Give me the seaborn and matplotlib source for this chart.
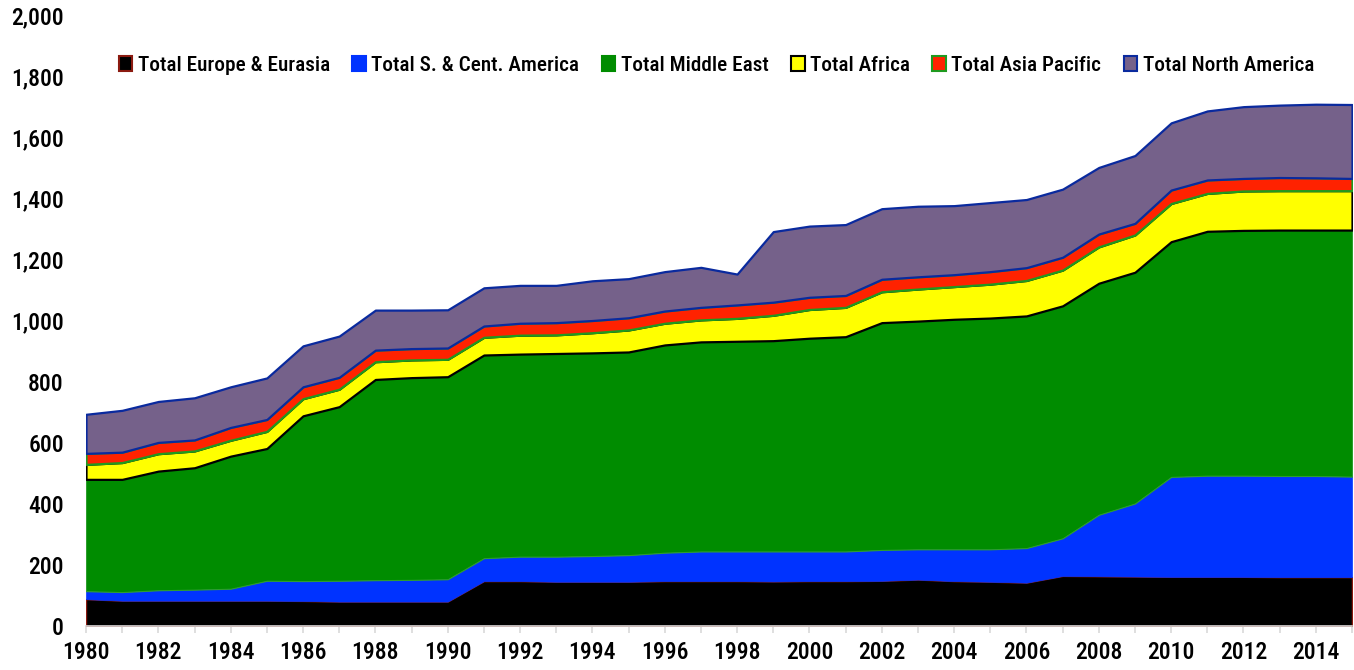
import numpy as np
import pandas as pd
import matplotlib
matplotlib.use("Agg")
import matplotlib.pyplot as plt
from matplotlib.patches import Patch
from matplotlib.ticker import FuncFormatter, MultipleLocator
import seaborn as sns

years = list(range(1980, 2016))

europe = [88, 83, 83, 83, 83, 83, 82, 80, 80, 80, 80, 147, 147, 145, 145, 145, 147, 147,
          147, 146, 147, 147, 148, 152, 147, 145, 142, 164, 163, 162, 161, 161, 161, 160, 160, 160]
sc_america = [26, 28, 34, 36, 39, 65, 65, 68, 70, 71, 73, 75, 80, 82, 84, 87, 93, 97,
              97, 98, 97, 97, 101, 99, 104, 106, 113, 123, 201, 239, 327, 331, 331, 331, 331, 329]
middle_east = [366, 369, 390, 399, 434, 433, 541, 570, 657, 662, 663, 665, 663, 665, 665, 665, 680, 686,
               688, 690, 698, 703, 744, 747, 753, 757, 760, 761, 758, 757, 770, 800, 803, 805, 805, 807]
africa = [49, 55, 57, 55, 52, 56, 56, 57, 58, 58, 57, 58, 62, 61, 66, 72, 71, 72,
          75, 83, 94, 96, 101, 105, 107, 111, 116, 117, 119, 122, 125, 124, 129, 129, 129, 129]
asia_pacific = [36, 34, 37, 36, 42, 39, 39, 39, 38, 37, 37, 37, 39, 40, 40, 40, 40, 41,
                44, 43, 40, 39, 41, 40, 39, 41, 42, 42, 42, 38, 44, 44, 41, 43, 42, 40]
north_america = [128, 137, 134, 138, 133, 136, 134, 135, 131, 126, 125, 125, 124, 122, 130, 128, 129, 131,
                 101, 231, 233, 232, 231, 231, 226, 226, 223, 223, 218, 222, 220, 226, 235, 237, 241, 242]

labels = ["Total Europe & Eurasia", "Total S. & Cent. America", "Total Middle East",
          "Total Africa", "Total Asia Pacific", "Total North America"]
y_ticks = [0, 200, 400, 600, 800, 1000, 1200, 1400, 1600, 1800, 2000]

df = pd.DataFrame({"Year": years, labels[0]: europe, labels[1]: sc_america, labels[2]: middle_east,
                   labels[3]: africa, labels[4]: asia_pacific, labels[5]: north_america})

sns.set_theme(style="white")
plt.rcParams["font.family"] = ["Roboto Condensed", "Open Sans Condensed", "Roboto", "DejaVu Sans"]
plt.rcParams["text.color"] = "black"
plt.rcParams["xtick.labelcolor"] = "black"
plt.rcParams["ytick.labelcolor"] = "black"

fills = ["#000000", "#0033FF", "#008C00", "#FFFF00", "#FF2200", "#75618A"]
edges = ["#8B1A10", "#0033FF", "#2E9E2E", "#000000", "#1F9A1F", "#0A2A9E"]
lws = [1.0, 0.5, 0.8, 1.6, 1.6, 1.6]

fig = plt.figure(figsize=(13.54, 6.70), dpi=100)
ax = fig.add_axes([86 / 1354, 44 / 670, (1352 - 86) / 1354, 611 / 670])

polys = ax.stackplot(df["Year"], *[df[l] for l in labels], colors=fills)
for p, ec, lw in zip(polys, edges, lws):
    p.set_edgecolor(ec)
    p.set_linewidth(lw)

ax.set_xlim(1980, 2015)
ax.set_ylim(0, 2000)
ax.set_yticks(y_ticks)
ax.yaxis.set_major_formatter(FuncFormatter(lambda v, _: f"{int(v):,}"))
ax.xaxis.set_minor_locator(MultipleLocator(1))
ax.set_xticks(list(range(1980, 2015, 2)))

for s in ["top", "right", "left"]:
    ax.spines[s].set_visible(False)
ax.spines["bottom"].set_color("#D9D9D9")
ax.spines["bottom"].set_linewidth(1.2)
ax.tick_params(axis="x", which="both", bottom=True, length=5, width=1.2, color="#D9D9D9",
               labelsize=17, pad=6, labelcolor="black")
ax.tick_params(axis="y", left=False, labelsize=17, pad=10, labelcolor="black")
for t in ax.get_xticklabels() + ax.get_yticklabels():
    t.set_fontweight("medium")
ax.set_xlabel("")
ax.set_ylabel("")
ax.grid(False)

handles = [Patch(facecolor=f, edgecolor=e, linewidth=1.5) for f, e in zip(fills, ["#8B1A10", "#0033FF", "#008C00", "#000000", "#1F9A1F", "#0A2A9E"])]
leg = ax.legend(handles, labels, ncol=6, loc="upper left", bbox_to_anchor=(0.019, 0.947),
                frameon=False, handlelength=0.65, handleheight=0.65, handletextpad=0.25,
                columnspacing=1.05, prop={"size": 15.3, "weight": "medium"}, borderaxespad=0,
                labelcolor="black")

fig.savefig("out.png", dpi=100)
